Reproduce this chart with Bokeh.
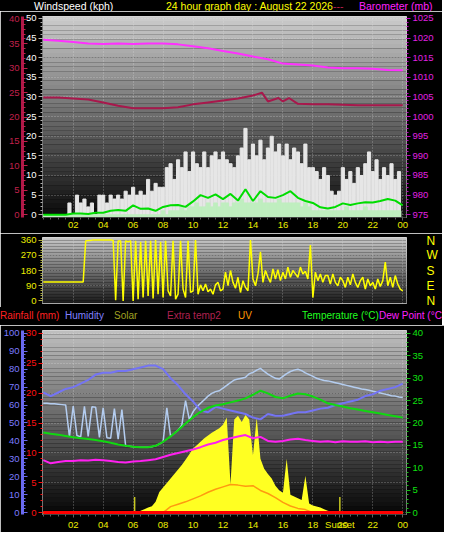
import numpy as np
from bokeh.plotting import figure
from bokeh.models import Range1d, LinearAxis, FixedTicker, Div
from bokeh.layouts import column
from bokeh.embed import file_html
from bokeh.resources import INLINE

# ---------------- data ----------------
hour_ticks = [2, 4, 6, 8, 10, 12, 14, 16, 18, 20, 22, 24]
hour_tick_labels = ["02", "04", "06", "08", "10", "12", "14", "16", "18", "20", "22", "00"]

header_texts = ["Windspeed (kph)", "24 hour graph day : August 22 2026", "---", "Barometer (mb)"]
header_colors = ["#ffffff", "#ffff00", "#c0204c", "#ff20ff"]
legend_texts = ["Rainfall (mm)", "Humidity", "Solar", "Extra temp2", "UV",
                "Temperature (\u00b0C)", "Dew Point (\u00b0C"]
legend_colors = ["#ff2020", "#8080ff", "#a0a020", "#b02050", "#ff9900", "#20ff20", "#ff20ff"]

# wind (kph), 15-minute samples
wind_gust = [0, 0, 0, 0,  0, 0, 0, 3,  0, 5, 3, 4,  2, 3, 0, 5,
             5, 3, 5, 4,  5, 4, 6, 5,  7, 5, 6, 5,  9, 6, 8, 7,
             7, 12, 13, 9,  14, 12, 16, 11,  16, 13, 12, 16,  12, 15, 16, 14,
             16, 14, 13, 12,  15, 17, 22, 14,  18, 15, 19, 14,  17, 20, 16, 18,
             15, 18, 14, 17,  16, 13, 18, 12,  12, 11, 9, 12,  10, 6, 5, 6,
             12, 9, 11, 8,  12, 10, 13, 16,  11, 14, 9, 12,  10, 13, 9, 11]
wind_speed = [0] * 32 + [1, 0, 1, 1,  1, 2, 1, 2,  2, 3, 2, 2,  3, 2, 3, 2,
                         3, 3, 2, 3,  3, 4, 3, 3,  3, 3, 4, 3,  3, 3, 3, 4,
                         3, 3, 3, 3,  3, 2, 3, 2,  1, 1, 1, 1,  1, 1, 1, 1,
                         1, 2, 1, 1,  1, 1, 2, 1,  1, 1, 1, 1,  1, 1, 1, 1]
# average wind (kph), 30-minute samples
wind_avg = [0, 0, 0, 0, 0.3, 0.3, 0.2, 0.5, 0.5, 1.0, 1.2, 1.0,
            2.4, 1.5, 1.6, 1.0, 2.0, 2.4, 2.5, 2.0, 3.4, 5.0, 4.3, 5.2,
            4.0, 5.3, 3.6, 6.5, 3.5, 6.0, 4.5, 4.3, 5.0, 6.0, 4.3, 3.5,
            3.0, 1.9, 1.6, 2.0, 2.9, 2.5, 2.9, 3.2, 3.1, 3.5, 4.0, 3.6, 2.4]
# barometer (mb), hourly
baro_mb = [1019.6, 1019.3, 1019.0, 1018.6, 1018.5, 1018.6, 1018.5, 1018.6, 1018.6,
           1018.4, 1017.9, 1017.4, 1016.7, 1016.1, 1015.3, 1014.6, 1013.5, 1013.3,
           1013.0, 1012.5, 1012.3, 1012.3, 1012.2, 1011.9, 1011.8]
# crimson series on the outer left scale
extra_hours = [0, 1, 2, 3, 4, 5, 6, 7, 8, 9, 10, 11, 12, 13, 14, 14.6, 15.0, 15.7,
               16.0, 16.4, 17, 18, 19, 20, 21, 22, 23, 24]
extra_vals = [24.0, 24.0, 23.8, 23.6, 23.0, 22.3, 21.8, 21.8, 21.8, 22.0, 22.6, 23.0,
              23.4, 23.8, 24.4, 25.0, 23.2, 23.9, 23.2, 23.9, 22.7, 22.6, 22.6, 22.5,
              22.4, 22.4, 22.4, 22.4]
# wind direction (deg), 10-minute samples
wind_dir = [112, 112, 112, 112, 112, 112,  112, 112, 112, 112, 112, 112,
            112, 112, 112, 112, 112, 355,  358, 358, 360, 360, 360, 360,
            360, 360, 360, 360, 358, 5,    355, 355, 0, 355, 350, 355,
            0, 355, 10, 350, 20, 355,      30, 355, 15, 360, 40, 350,
            20, 355, 60, 30, 355, 10,      40, 355, 70, 20, 355, 50,
            60, 360, 40, 95, 60, 100,      55, 70, 40, 95, 110, 60,
            70, 170, 90, 180, 110, 75,     140, 50, 120, 80, 60, 360,
            130, 90, 160, 290, 110, 180,   140, 110, 190, 130, 185, 120,
            170, 130, 200, 140, 180, 160,  140, 200, 160, 175, 130, 330,
            20, 170, 120, 160, 110, 150,   150, 100, 160, 110, 90, 140,
            120, 80, 140, 95, 160, 110,    80, 120, 140, 70, 130, 90,
            110, 70, 130, 85, 120, 230,    90, 140, 80, 150, 100, 70, 60]
direction_labels = {0: "N", 90: "E", 180: "S", 270: "W", 360: "N"}

# lower chart, 30-minute samples
humidity = [67, 65, 67, 69, 70, 72, 74, 77, 78, 78, 79, 79, 80, 81, 82, 82, 80, 75,
            71, 66, 62, 57, 56, 59, 58, 57, 56, 55, 53, 52, 55, 54, 54, 55, 56, 56,
            57, 58, 58.5, 60, 61, 62, 63, 65, 66, 68, 69, 70, 72]
temperature = [17.9, 17.6, 17.4, 17.1, 16.8, 16.6, 16.4, 16.2, 15.9, 15.6, 15.2, 14.9,
               14.7, 14.6, 14.6, 14.9, 15.8, 17.0, 18.4, 19.9, 21.3, 22.5, 23.4, 23.9,
               24.2, 24.6, 25.0, 25.5, 26.3, 27.2, 26.6, 25.8, 25.5, 26.1, 26.6, 26.4,
               25.9, 25.2, 24.4, 24.0, 23.7, 23.3, 23.0, 22.7, 22.4, 22.1, 21.8, 21.5, 21.2]
dew_point = [11.7, 11.0, 11.3, 11.5, 11.5, 11.7, 11.6, 11.8, 11.7, 11.5, 11.3, 11.2,
             11.4, 11.5, 11.7, 11.9, 12.4, 12.9, 13.3, 13.7, 14.1, 14.6, 15.2, 15.6,
             16.2, 16.6, 17.0, 17.3, 16.6, 16.9, 16.0, 15.8, 16.0, 16.3, 16.5, 16.2,
             16.0, 15.8, 15.9, 15.7, 15.9, 15.8, 15.8, 15.9, 15.7, 15.8, 15.7, 15.8, 15.8]
uv_index = [0] * 17 + [1.0, 1.4, 1.8, 2.3, 2.8, 3.4, 3.9, 4.3, 4.7, 4.6, 4.4, 4.5,
                       3.7, 3.2, 2.5, 1.7, 1.1, 0.7, 0.5] + [0] * 13
# pale blue temperature trace, 15-minute samples (degC)
pale_temp = [24.4, 24.4, 24.3, 24.3,  24.2, 24.1, 24.0, 16.9,  23.8, 17.2, 16.9, 23.7,
             17.0, 23.6, 23.5, 16.8,  23.4, 16.7, 16.6, 23.2,  16.4, 23.0, 14.9, 14.8,
             14.7, 14.6, 14.6, 14.6,  14.6, 14.7, 14.9, 15.3,  15.8, 23.4, 17.0, 17.7,
             18.4, 19.5, 25.0, 20.8,  22.5, 23.6, 24.4, 25.2,  26.0, 26.6, 27.0, 27.2,
             27.8, 28.4, 29.0, 29.6,  29.8, 30.0, 30.2, 31.0,  31.3, 31.8, 32.2, 31.5,
             30.9, 30.4, 30.0, 29.8,  30.4, 31.0, 31.5, 31.8,  32.0, 31.7, 31.2, 30.8,
             30.4, 30.0, 29.7, 29.5,  29.4, 29.2, 29.0, 28.8,  28.6, 28.4, 28.2, 28.0,
             27.8, 27.6, 27.5, 27.3,  27.1, 26.9, 26.7, 26.5,  26.3, 26.1, 26.0, 25.8, 25.7]
# solar radiation (W/m2), 15-minute samples
solar = [0] * 25 + [0, 10, 18,  28, 35, 60, 115,  140, 165, 190, 215,  240, 265, 295, 325,
                    357, 375, 395, 415,  430, 445, 458, 470,  490, 530, 160, 520,
                    540, 505, 545, 520,  320, 530, 300, 245,  215, 190, 150, 125,
                    110, 300, 100, 90,  80, 70, 205, 50,  40, 34, 28, 18,  10, 5, 0, 0] + [0] * 17
rainfall = [0] * 25
sunrise_hour = 6.1
sunset_hour = 19.8

t15 = np.arange(len(wind_gust)) * 0.25
t30 = np.arange(len(wind_avg)) * 0.5
t60 = np.arange(len(baro_mb)) * 1.0
t10 = np.arange(len(wind_dir)) / 6.0
t15b = np.arange(len(pale_temp)) * 0.25

# ---------------- styling helpers ----------------
FONT = "Liberation Sans"
W = 442
FW = 364
BL, BR = 40, 38
XR = (-0.05, 24.25)
YELLOW = "#ecec00"


def text_row(height, xs, texts, colors, size):
    spans = "".join(
        '<span style="position:absolute;left:%dpx;top:0;color:%s">%s</span>' % (x, c, t)
        for x, t, c in zip(xs, texts, colors))
    html = ('<div style="position:relative;width:%dpx;height:%dpx;background:#000;'
            'font-family:\'%s\';font-size:%s;line-height:%dpx;white-space:nowrap;'
            'overflow:hidden">%s</div>') % (W, height, FONT, size, height, spans)
    return Div(text=html, width=W, height=height, margin=0,
               styles={"background-color": "black", "overflow": "hidden"})


def base_fig(frame_h, top, bottom, y_range):
    p = figure(frame_width=FW, frame_height=frame_h, x_range=Range1d(*XR), y_range=y_range,
               output_backend="svg", toolbar_location=None,
               min_border_left=BL, min_border_right=BR,
               min_border_top=top, min_border_bottom=bottom,
               background_fill_color="black", border_fill_color="black",
               outline_line_color="#d8d8d8", outline_line_width=1)
    p.grid.grid_line_color = "#e8e8e8"
    p.grid.grid_line_alpha = 0.45
    p.grid.grid_line_dash = "1 2"
    p.xgrid.ticker = FixedTicker(ticks=hour_ticks)
    return p


def gradient(p, yr, top_gray, bottom_gray, n=44):
    edges = np.linspace(yr.start, yr.end, n + 1)
    cols = []
    for i in range(n):
        f = (i + 0.5) / n
        g = int(round(bottom_gray + (top_gray - bottom_gray) * f))
        cols.append("#%02x%02x%02x" % (g, g, g))
    p.quad(left=-1, right=25, bottom=edges[:-1], top=edges[1:],
           fill_color=cols, line_color=None, level="image")


def style_axis(ax, color, tick_color=None, size="9.5px"):
    ax.major_label_text_color = color
    ax.major_label_text_font = FONT
    ax.major_label_text_font_size = size
    tc = tick_color or color
    ax.major_tick_line_color = tc
    ax.minor_tick_line_color = tc
    ax.major_label_standoff = 2


def ticks_out(ax, major=4, minor=2):
    ax.major_tick_out = major
    ax.minor_tick_out = minor
    ax.major_tick_in = 0
    ax.minor_tick_in = 0


def ticks_in(ax, major=5, minor=3):
    ax.major_tick_out = 0
    ax.minor_tick_out = 0
    ax.major_tick_in = major
    ax.minor_tick_in = minor


def style_xaxis(p, extra_ticks=None, extra_labels=None):
    ticks = list(hour_ticks)
    labels = dict(zip(hour_ticks, hour_tick_labels))
    if extra_ticks:
        ticks += extra_ticks
        labels.update(dict(zip(extra_ticks, extra_labels)))
    ax = p.xaxis[0]
    ax.ticker = FixedTicker(ticks=ticks, minor_ticks=[0.5 * i for i in range(49)])
    ax.major_label_overrides = labels
    style_axis(ax, YELLOW, "#606060")
    ax.axis_line_color = "#404040"
    ticks_out(ax, 3, 2)
    ax.major_label_standoff = 1


# ---------------- header row ----------------
head = text_row(11, [34, 166, 333, 359], header_texts, header_colors, "10.5px")

# ---------------- top: wind speed & barometer ----------------
H1 = 201
p1 = base_fig(H1, 5, 16, Range1d(-0.7, 50.5))
p1.extra_y_ranges = {"crim": Range1d(-0.58, 40.6), "baro": Range1d(974.3, 1025.5)}
gradient(p1, p1.y_range, 205, 8)

ws_axis = p1.yaxis[0]
ws_axis.ticker = FixedTicker(ticks=list(range(0, 51, 5)), minor_ticks=list(range(0, 51)))
style_axis(ws_axis, "#ffffff", "#b0b0b0")
ws_axis.axis_line_color = "#707070"
ticks_out(ws_axis)

crim_axis = LinearAxis(y_range_name="crim",
                       ticker=FixedTicker(ticks=list(range(0, 41, 5)), minor_ticks=list(range(0, 41))))
style_axis(crim_axis, "#c0204c")
crim_axis.axis_line_color = "#b01848"
crim_axis.axis_line_width = 3
ticks_in(crim_axis)
crim_axis.major_label_standoff = 3
p1.add_layout(crim_axis, "left")

baro_axis = LinearAxis(y_range_name="baro",
                       ticker=FixedTicker(ticks=list(range(975, 1026, 5)), minor_ticks=list(range(975, 1026))))
style_axis(baro_axis, "#e020e0", "#c000c0")
baro_axis.axis_line_color = None
ticks_out(baro_axis)
p1.add_layout(baro_axis, "right")

style_xaxis(p1)

p1.vbar(x=t15, top=wind_gust, bottom=-1, width=0.21, color="#e6e6e6")
p1.vbar(x=t15, top=wind_speed, bottom=-1, width=0.25, color="#bfeebf")
p1.line(t30, wind_avg, color="#00dd00", line_width=2)
p1.line(t60, baro_mb, y_range_name="baro", color="#ff30ff", line_width=2)
p1.line(extra_hours, extra_vals, y_range_name="crim", color="#a8184c", line_width=2)

# ---------------- middle: wind direction ----------------
H2 = 66
p2 = base_fig(H2, 4, 4, Range1d(-15, 375))
gradient(p2, p2.y_range, 200, 25)
p2.xaxis.visible = False
p2.ygrid.ticker = FixedTicker(ticks=[90, 180, 270])
dir_axis = p2.yaxis[0]
dir_axis.ticker = FixedTicker(ticks=[0, 90, 180, 270, 360], minor_ticks=list(range(0, 361, 15)))
style_axis(dir_axis, YELLOW, "#b0b040")
dir_axis.axis_line_color = None
ticks_out(dir_axis)

compass_axis = LinearAxis(ticker=FixedTicker(ticks=list(direction_labels.keys())),
                          major_label_overrides=direction_labels)
style_axis(compass_axis, "#ffff00", size="12px")
compass_axis.axis_line_color = None
compass_axis.major_tick_line_color = None
compass_axis.minor_tick_line_color = None
compass_axis.major_label_standoff = 14
p2.add_layout(compass_axis, "right")

p2.line(t10, wind_dir, color="#ffff00", line_width=1.5)

# ---------------- legend row ----------------
legend_row = text_row(18, [0, 65, 114, 167, 238, 302, 379], legend_texts, legend_colors, "10px")

# ---------------- bottom: temperature, humidity, solar ----------------
H3 = 184
p3 = base_fig(H3, 5, 16, Range1d(-0.32, 30.49))
p3.extra_y_ranges = {"hum": Range1d(-1.08, 101.6), "temp": Range1d(-0.43, 40.65),
                     "solar": Range1d(-10.8, 1016)}
gradient(p3, p3.y_range, 192, 5)

rain_axis = p3.yaxis[0]
rain_axis.ticker = FixedTicker(ticks=list(range(0, 31, 5)), minor_ticks=list(range(0, 31)))
style_axis(rain_axis, "#ff1010")
rain_axis.axis_line_color = None
ticks_out(rain_axis)

hum_axis = LinearAxis(y_range_name="hum",
                      ticker=FixedTicker(ticks=list(range(0, 101, 10)), minor_ticks=list(range(0, 101, 2))))
style_axis(hum_axis, "#7c7cff", "#6a6af0")
hum_axis.axis_line_color = "#6a6af0"
hum_axis.axis_line_width = 3
ticks_in(hum_axis)
hum_axis.major_label_standoff = 3
p3.add_layout(hum_axis, "left")

temp_axis = LinearAxis(y_range_name="temp",
                       ticker=FixedTicker(ticks=list(range(0, 41, 5)), minor_ticks=list(range(0, 41))))
style_axis(temp_axis, "#10e010", "#10c010")
temp_axis.axis_line_color = None
ticks_out(temp_axis)
p3.add_layout(temp_axis, "right")

style_xaxis(p3, [sunset_hour], ["Sunset"])

p3.varea(x=t15b, y1=-30, y2=solar, y_range_name="solar", fill_color="#ffff22")
p3.segment(x0=[sunrise_hour, sunset_hour], y0=0, x1=[sunrise_hour, sunset_hour], y1=2.6,
           line_color="#c8c820", line_width=1.5)
p3.line(t15b, pale_temp, y_range_name="temp", color="#b4cdf0", line_width=1.5)
p3.line(t30, humidity, y_range_name="hum", color="#7474f4", line_width=2)
p3.line(t30, temperature, y_range_name="temp", color="#10d810", line_width=2)
p3.line(t30, dew_point, y_range_name="temp", color="#ff20f0", line_width=2)
p3.line(t30, uv_index, color="#ff9a10", line_width=1.5)
p3.line(t60, rainfall, color="#ff0000", line_width=3)

layout = column(head, p1, p2, legend_row, p3)
open("out.html", "w").write(file_html(layout, INLINE))
